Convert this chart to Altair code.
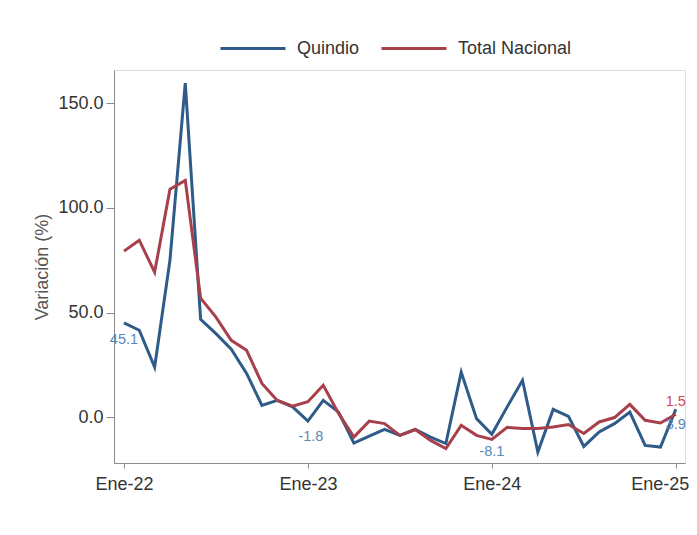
import altair as alt
import pandas as pd

# ---- data ----
months = list(range(37))  # Ene-22 ... Ene-25
x_tick_values = [0, 12, 24, 36]
x_tick_labels = ["Ene-22", "Ene-23", "Ene-24", "Ene-25"]
y_tick_values = [0, 50, 100, 150]

quindio = [45.1, 41.6, 24.0, 75.0, 159.6, 46.8, 40.0, 32.5, 21.0, 5.7,
           8.1, 5.0, -1.8, 8.1, 2.5, -12.3, -9.0, -5.7, -8.6, -5.8,
           -9.4, -12.5, 21.6, -0.6, -8.1, 5.0, 17.7, -16.6, 3.8, 0.5,
           -13.9, -7.0, -3.0, 2.5, -13.4, -14.2, 3.9]
nacional = [79.4, 84.6, 69.3, 109.0, 113.2, 56.9, 47.9, 36.8, 32.0, 16.2,
            8.1, 5.3, 7.5, 15.3, 1.9, -9.4, -1.8, -3.0, -8.6, -5.8,
            -11.0, -14.9, -3.8, -8.6, -10.5, -4.8, -5.3, -5.3, -4.6, -3.4,
            -7.7, -2.2, -0.1, 6.2, -1.4, -2.7, 1.5]
series_names = ["Quindio", "Total Nacional"]

# labelled points: (month index, series, text)
label_points = [(0, "Quindio", "45.1"), (12, "Quindio", "-1.8"),
                (24, "Quindio", "-8.1"), (36, "Quindio", "3.9"),
                (36, "Total Nacional", "1.5")]

# ---- styling ----
BLUE = "#2e5b88"
RED = "#a8404b"
BLUE_LABEL = "#5a87b6"
RED_LABEL = "#d4465e"
FONT = "Liberation Sans"

df = pd.DataFrame({
    "mes": months * 2,
    "serie": [series_names[0]] * len(months) + [series_names[1]] * len(months),
    "valor": quindio + nacional,
})

label_expr = "[" + ",".join("'%s'" % t for t in x_tick_labels) + "][datum.value / 12]"
last_tick = x_tick_values[-1]

x_enc = alt.X("mes:Q",
              scale=alt.Scale(domain=[-0.65, 36.6], nice=False, zero=False),
              axis=alt.Axis(values=x_tick_values, labelExpr=label_expr, title=None,
                            grid=False, tickSize=5, labelPadding=7,
                            labelFontSize=18, labelColor="#333333",
                            labelOffset={"condition": {"test": "datum.value == %d" % last_tick,
                                                       "value": -16},
                                         "value": 0},
                            domainColor="#8c8c8c", tickColor="#8c8c8c"))
y_scale = alt.Scale(domain=[-21.8, 165.9], nice=False, zero=False)
y_enc = alt.Y("valor:Q", scale=y_scale,
              axis=alt.Axis(values=y_tick_values, format=".1f", title="Variación (%)",
                            grid=False, tickSize=8, labelPadding=3,
                            labelFontSize=18, labelColor="#333333",
                            titleFontSize=18, titleFontWeight="normal",
                            titleColor="#555555", titlePadding=6,
                            domainColor="#8c8c8c", tickColor="#8c8c8c"))

lines = alt.Chart(df).mark_line(strokeWidth=3).encode(
    x=x_enc,
    y=y_enc,
    color=alt.Color("serie:N",
                    scale=alt.Scale(domain=series_names, range=[BLUE, RED]),
                    legend=alt.Legend(title=None, orient="none", direction="horizontal",
                                      legendX=105, legendY=-55.5, padding=0,
                                      symbolType="stroke", symbolSize=4225,
                                      symbolStrokeWidth=3, labelOffset=10,
                                      columnPadding=15, labelFontSize=18,
                                      labelColor="#333333", labelFont=FONT)),
)

offsets = {"45.1": (0, 17), "-1.8": (3, 16), "-8.1": (0, 18),
           "3.9": (0, 16), "1.5": (0, -12)}

layers = [lines]
for idx, serie, txt in label_points:
    val = (quindio if serie == "Quindio" else nacional)[idx]
    ldf = pd.DataFrame({"mes": [idx], "valor": [val], "txt": [txt]})
    dx, dy = offsets[txt]
    layers.append(
        alt.Chart(ldf).mark_text(fontSize=14.5, font=FONT, dx=dx, dy=dy,
                                 align="center", baseline="middle",
                                 color=BLUE_LABEL if serie == "Quindio" else RED_LABEL)
        .encode(x=alt.X("mes:Q"), y=alt.Y("valor:Q"), text="txt:N")
    )

chart = alt.layer(*layers).properties(
    width=571, height=393,
    autosize=alt.AutoSizeParams(type="none"),
    padding={"left": 106, "top": 62, "right": 4, "bottom": 60},
    background="white",
).configure_view(stroke=None).configure(font=FONT)

chart.save("out.html", embed_options={"renderer": "svg", "actions": False})
